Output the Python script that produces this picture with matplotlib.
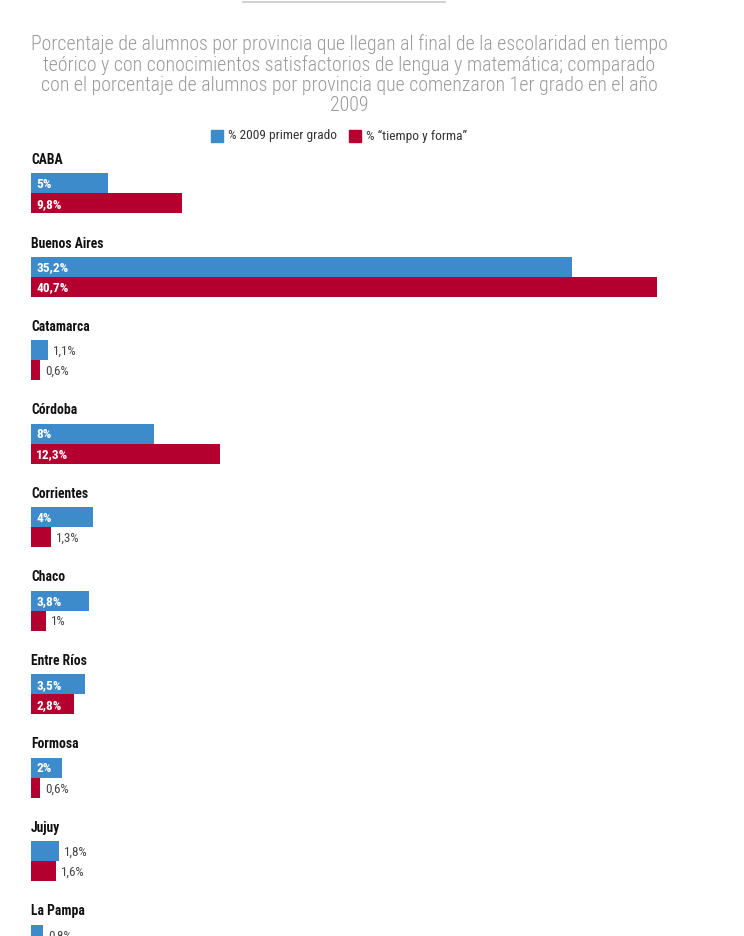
"""Bar chart: share of students per province (2009 first grade vs. "tiempo y forma")."""

import matplotlib

matplotlib.use("Agg")

import matplotlib.pyplot as plt  # noqa: E402

provinces = [
    "CABA", "Buenos Aires", "Catamarca", "Córdoba", "Corrientes",
    "Chaco", "Entre Ríos", "Formosa", "Jujuy", "La Pampa",
]
pct_2009 = [5.0, 35.2, 1.1, 8.0, 4.0, 3.8, 3.5, 2.0, 1.8, 0.8]
pct_tiempo = [9.8, 40.7, 0.6, 12.3, 1.3, 1.0, 2.8, 0.6, 1.6, 0.5]
labels_2009 = ["5%", "35,2%", "1,1%", "8%", "4%", "3,8%", "3,5%", "2%", "1,8%", "0,8%"]
labels_tiempo = ["9,8%", "40,7%", "0,6%", "12,3%", "1,3%", "1%", "2,8%", "0,6%", "1,6%", "0,5%"]

title = (
    "Porcentaje de alumnos por provincia que llegan al final de la escolaridad en tiempo\n"
    "teórico y con conocimientos satisfactorios de lengua y matemática; comparado\n"
    "con el porcentaje de alumnos por provincia que comenzaron 1er grado en el año\n"
    "2009"
)

BLUE = "#3d8bca"
RED = "#b4002f"
W, H = 744, 937
FAMILY = ["Roboto Condensed", "DejaVu Sans"]

fig = plt.figure(figsize=(W / 100, H / 100), dpi=100)
fig.patch.set_facecolor("white")


def fy(py):
    return 1 - py / H


# thin rule at the top
fig.add_artist(plt.Line2D([243 / W, 445 / W], [fy(3), fy(3)], color="#c8c8c8", lw=1.2))

fig.text(349 / W, fy(34), title, ha="center", va="top", fontsize=14.3, color="#9a9a9a",
         family=FAMILY, fontweight="light", linespacing=1.07)

# legend
fig.add_artist(plt.Rectangle((211 / W, fy(143)), 12 / W, 12 / H, color=BLUE))
fig.text(228 / W, fy(136), "% 2009 primer grado", fontsize=9.6, va="center",
         color="#333333", family=FAMILY)
fig.add_artist(plt.Rectangle((349 / W, fy(143)), 12 / W, 12 / H, color=RED))
fig.text(366 / W, fy(136), "% \u201ctiempo y forma\u201d", fontsize=9.6, va="center",
         color="#333333", family=FAMILY)

# axes: x in percent, y in figure pixels (top = 0)
ax = fig.add_axes([31 / W, 0, 626 / W, 1])
ax.set_xlim(0, max(pct_tiempo))
ax.set_ylim(H, 0)
ax.axis("off")

GROUP0 = 160
STEP = 83.5
BAR_H = 20
for i, name in enumerate(provinces):
    y_label = GROUP0 + STEP * i
    ax.text(0, y_label, name, fontsize=9.8, fontweight="bold", va="center",
            ha="left", color="#111111", family=FAMILY)
    for j, (vals, labs, col) in enumerate(((pct_2009, labels_2009, BLUE),
                                            (pct_tiempo, labels_tiempo, RED))):
        yc = y_label + 24 + BAR_H * j
        ax.barh(yc, vals[i], height=BAR_H, color=col, left=0, linewidth=0)
        if vals[i] >= 2.0:
            ax.text(0.35, yc + 0.5, labs[i], color="white", fontsize=9.6, va="center",
                    ha="left", fontweight="bold", family=FAMILY)
        else:
            ax.annotate(labs[i], (vals[i], yc + 0.5), xytext=(5, 0), textcoords="offset pixels",
                        color="#444444", fontsize=9.4, va="center", ha="left", family=FAMILY)

fig.savefig("out.png", dpi=100)
